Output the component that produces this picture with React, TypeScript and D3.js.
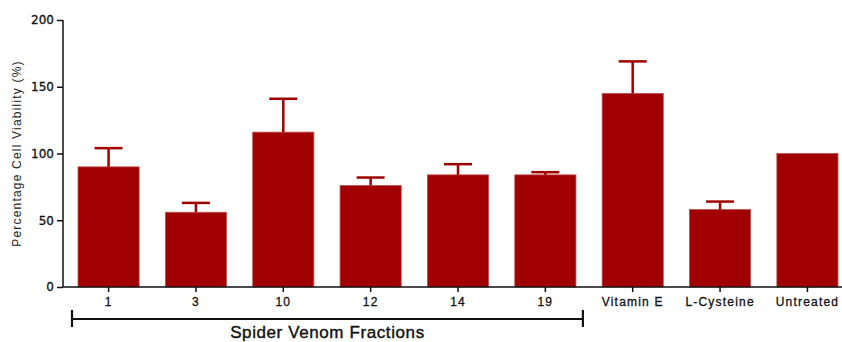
import React, { useEffect, useRef } from "react";
import * as d3 from "d3";

const categories = ["1", "3", "10", "12", "14", "19", "Vitamin E", "L-Cysteine", "Untreated"];
const viability = [90, 56, 116, 76, 84, 84, 145, 58, 100];
const errorTop = [104, 63, 141, 82, 92, 86, 169, 64, 100];
const yTicks = [0, 50, 100, 150, 200];
const groupLabel = "Spider Venom Fractions";
const groupMembers = ["1", "19"];

const width = 842, height = 342;
const red = "#a00000";

export default function App() {
    const ref = useRef<SVGSVGElement>(null);

    useEffect(() => {
        document.body.style.margin = "0";
        const svg = d3.select(ref.current);
        svg.selectAll("*").remove();

        const x = d3.scaleBand()
            .domain(categories)
            .range([78, 838])
            .paddingInner(0.3)
            .paddingOuter(0);

        const y = d3.scaleLinear()
            .domain([0, 200])
            .range([287, 20]);

        const axisX = 63;

        // bars
        svg.append("g")
            .selectAll("rect")
            .data(categories)
            .enter()
            .append("rect")
            .attr("x", (d) => x(d)!)
            .attr("y", (d, i) => y(viability[i]))
            .attr("width", x.bandwidth())
            .attr("height", (d, i) => y(0) - y(viability[i]))
            .attr("fill", red)
            .attr("stroke", "#c05050")
            .attr("stroke-width", 0.8);

        // error bars (upper only)
        const err = svg.append("g")
            .attr("stroke", red)
            .attr("stroke-width", 2.5);
        categories.forEach((d, i) => {
            if (errorTop[i] <= viability[i]) return;
            const cx = x(d)! + x.bandwidth() / 2;
            err.append("line")
                .attr("x1", cx).attr("x2", cx)
                .attr("y1", y(viability[i])).attr("y2", y(errorTop[i]));
            err.append("line")
                .attr("x1", cx - 14).attr("x2", cx + 14)
                .attr("y1", y(errorTop[i])).attr("y2", y(errorTop[i]));
        });

        // y axis
        const yAxis = d3.axisLeft(y).tickValues(yTicks).tickSize(6).tickPadding(3);
        const gy = svg.append("g")
            .attr("transform", "translate(" + axisX + ",0)")
            .call(yAxis);
        gy.select(".domain").attr("stroke", "#111").attr("stroke-width", 1.5)
            .attr("d", "M0," + y(0) + "V" + y(200));
        gy.selectAll(".tick line").attr("stroke", "#111").attr("stroke-width", 1.5);
        gy.selectAll(".tick text")
            .attr("font-family", "DejaVu Sans")
            .attr("font-size", 12)
            .attr("fill", "#111")
            .attr("stroke", "#111")
            .attr("stroke-width", 0.3);

        // x axis
        const xAxis = d3.axisBottom(x).tickSize(5).tickPadding(5);
        const gx = svg.append("g")
            .attr("transform", "translate(0," + y(0) + ")")
            .call(xAxis);
        gx.select(".domain").attr("stroke", "#111").attr("stroke-width", 1.5)
            .attr("d", "M" + axisX + ",0H" + width);
        gx.selectAll(".tick line").attr("stroke", "#111").attr("stroke-width", 1.5);
        gx.selectAll(".tick text")
            .attr("font-family", "Liberation Sans")
            .attr("font-size", 12)
            .attr("letter-spacing", 1.2)
            .attr("fill", "#111")
            .attr("stroke", "#111")
            .attr("stroke-width", 0.3);

        // y label
        svg.append("text")
            .attr("transform", "translate(21," + y(100) + ") rotate(-90)")
            .attr("text-anchor", "middle")
            .attr("font-family", "Liberation Sans")
            .attr("font-size", 12)
            .attr("letter-spacing", 1.2)
            .attr("fill", "#222")
            .text("Percentage Cell Viability (%)");

        // group bracket
        const bx0 = x(groupMembers[0])! - 6;
        const bx1 = x(groupMembers[1])! + x.bandwidth() + 7;
        const by = 319;
        const br = svg.append("g").attr("stroke", "#111").attr("stroke-width", 2.2);
        br.append("line").attr("x1", bx0).attr("x2", bx1).attr("y1", by).attr("y2", by);
        br.append("line").attr("x1", bx0).attr("x2", bx0).attr("y1", by - 9).attr("y2", by + 8);
        br.append("line").attr("x1", bx1).attr("x2", bx1).attr("y1", by - 9).attr("y2", by + 8);

        svg.append("text")
            .attr("x", (bx0 + bx1) / 2)
            .attr("y", 338)
            .attr("text-anchor", "middle")
            .attr("font-family", "Liberation Sans")
            .attr("font-size", 17)
            .attr("letter-spacing", 0.6)
            .attr("fill", "#111")
            .attr("stroke", "#111")
            .attr("stroke-width", 0.4)
            .text(groupLabel);
    }, []);

    return <svg ref={ref} width={width} height={height} style={{ display: "block", background: "#fff" }}></svg>;
}
